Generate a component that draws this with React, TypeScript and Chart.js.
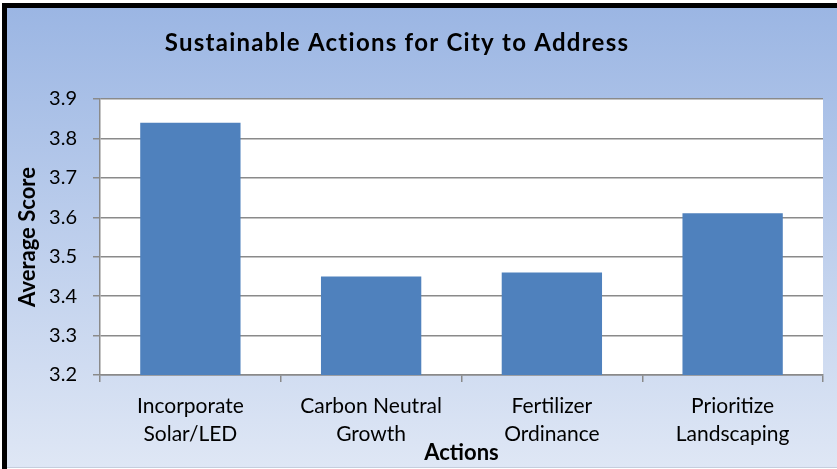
import React, { useEffect, useRef } from "react";
import { Chart, registerables } from "chart.js";

Chart.register(...registerables);

const categories: string[][] = [
  ["Incorporate", "Solar/LED"],
  ["Carbon Neutral", "Growth"],
  ["Fertilizer", "Ordinance"],
  ["Prioritize", "Landscaping"],
];
const averageScores: number[] = [3.84, 3.45, 3.46, 3.61];
const chartTitle = "Sustainable Actions for City to Address";
const xAxisTitle = "Actions";
const yAxisTitle = "Average Score";
const yMin = 3.2;
const yMax = 3.9;
const yStep = 0.1;

const FONT = "Lato, 'Open Sans', sans-serif";

const decorPlugin = {
  id: "decor",
  beforeDraw(chart: any) {
    const { ctx, width, height, chartArea } = chart;
    ctx.save();
    ctx.fillStyle = "#ffffff";
    ctx.fillRect(0, 0, width, height);
    const g = ctx.createLinearGradient(0, 0, 0, height);
    g.addColorStop(0, "#9ab5e3");
    g.addColorStop(1, "#dfe7f5");
    ctx.fillStyle = g;
    ctx.fillRect(2, 3, width - 2, height - 5);
    ctx.fillStyle = "#000000";
    ctx.fillRect(2, 3, width - 2, 5);
    ctx.fillRect(2, 3, 5, height - 3);
    ctx.fillStyle = "#c5cedd";
    ctx.fillRect(7, height - 2, width - 7, 1);
    ctx.fillStyle = "#ffffff";
    ctx.fillRect(chartArea.left, chartArea.top, chartArea.right - chartArea.left, chartArea.bottom - chartArea.top);
    ctx.fillStyle = "#000000";
    ctx.font = `bold 24px ${FONT}`;
    try {
      (ctx as any).letterSpacing = "1.25px";
    } catch (e) {}
    ctx.textAlign = "center";
    ctx.textBaseline = "middle";
    ctx.fillText(chartTitle, 397, 43.5);
    ctx.restore();
  },
};

export default function App() {
  const ref = useRef<HTMLCanvasElement | null>(null);
  useEffect(() => {
    document.body.style.margin = "0";
    const canvas = ref.current!;
    const chart = new Chart(canvas, {
      type: "bar",
      data: {
        labels: categories,
        datasets: [
          {
            label: yAxisTitle,
            data: averageScores,
            backgroundColor: "#4f81bd",
            borderWidth: 0,
            barPercentage: 0.555,
            categoryPercentage: 1,
          },
        ],
      },
      options: {
        animation: false,
        responsive: false,
        maintainAspectRatio: false,
        layout: { padding: { left: 0, top: 99, right: 14, bottom: 0 } },
        plugins: {
          legend: { display: false },
          title: { display: false },
          tooltip: { enabled: false },
        },
        scales: {
          x: {
            offset: true,
            grid: {
              offset: true,
              drawOnChartArea: false,
              drawTicks: true,
              tickLength: 7,
              color: "#8a8a8a",
              lineWidth: 1.5,
            },
            border: { display: true, color: "#8a8a8a", width: 1.5 },
            ticks: {
              color: "#000000",
              font: { family: FONT, size: 21, lineHeight: 1.3 },
              padding: 11,
              maxRotation: 0,
              autoSkip: false,
            },
            title: {
              display: true,
              text: xAxisTitle,
              color: "#000000",
              font: { family: FONT, size: 22, weight: "bold", lineHeight: 1.2 },
              padding: { top: 0, bottom: 3 },
            },
            afterFit(scale: any) {
              scale.height = 94;
            },
          },
          y: {
            min: yMin,
            max: yMax,
            grid: {
              color: "#8a8a8a",
              lineWidth: 1.5,
              tickLength: 7,
            },
            border: { display: true, color: "#8a8a8a", width: 1.5 },
            ticks: {
              stepSize: yStep,
              color: "#000000",
              font: { family: FONT, size: 20 },
              padding: 16,
              callback: (v: any) => Number(v).toFixed(1),
            },
            title: {
              display: true,
              text: yAxisTitle,
              color: "#000000",
              font: { family: FONT, size: 22, weight: "bold", lineHeight: 1.2 },
              padding: { top: 15, bottom: 0 },
            },
            afterFit(scale: any) {
              scale.width = 100;
            },
          },
        },
      },
      plugins: [decorPlugin],
    });
    return () => chart.destroy();
  }, []);
  return <canvas ref={ref} width={837} height={469} style={{ display: "block" }} />;
}
